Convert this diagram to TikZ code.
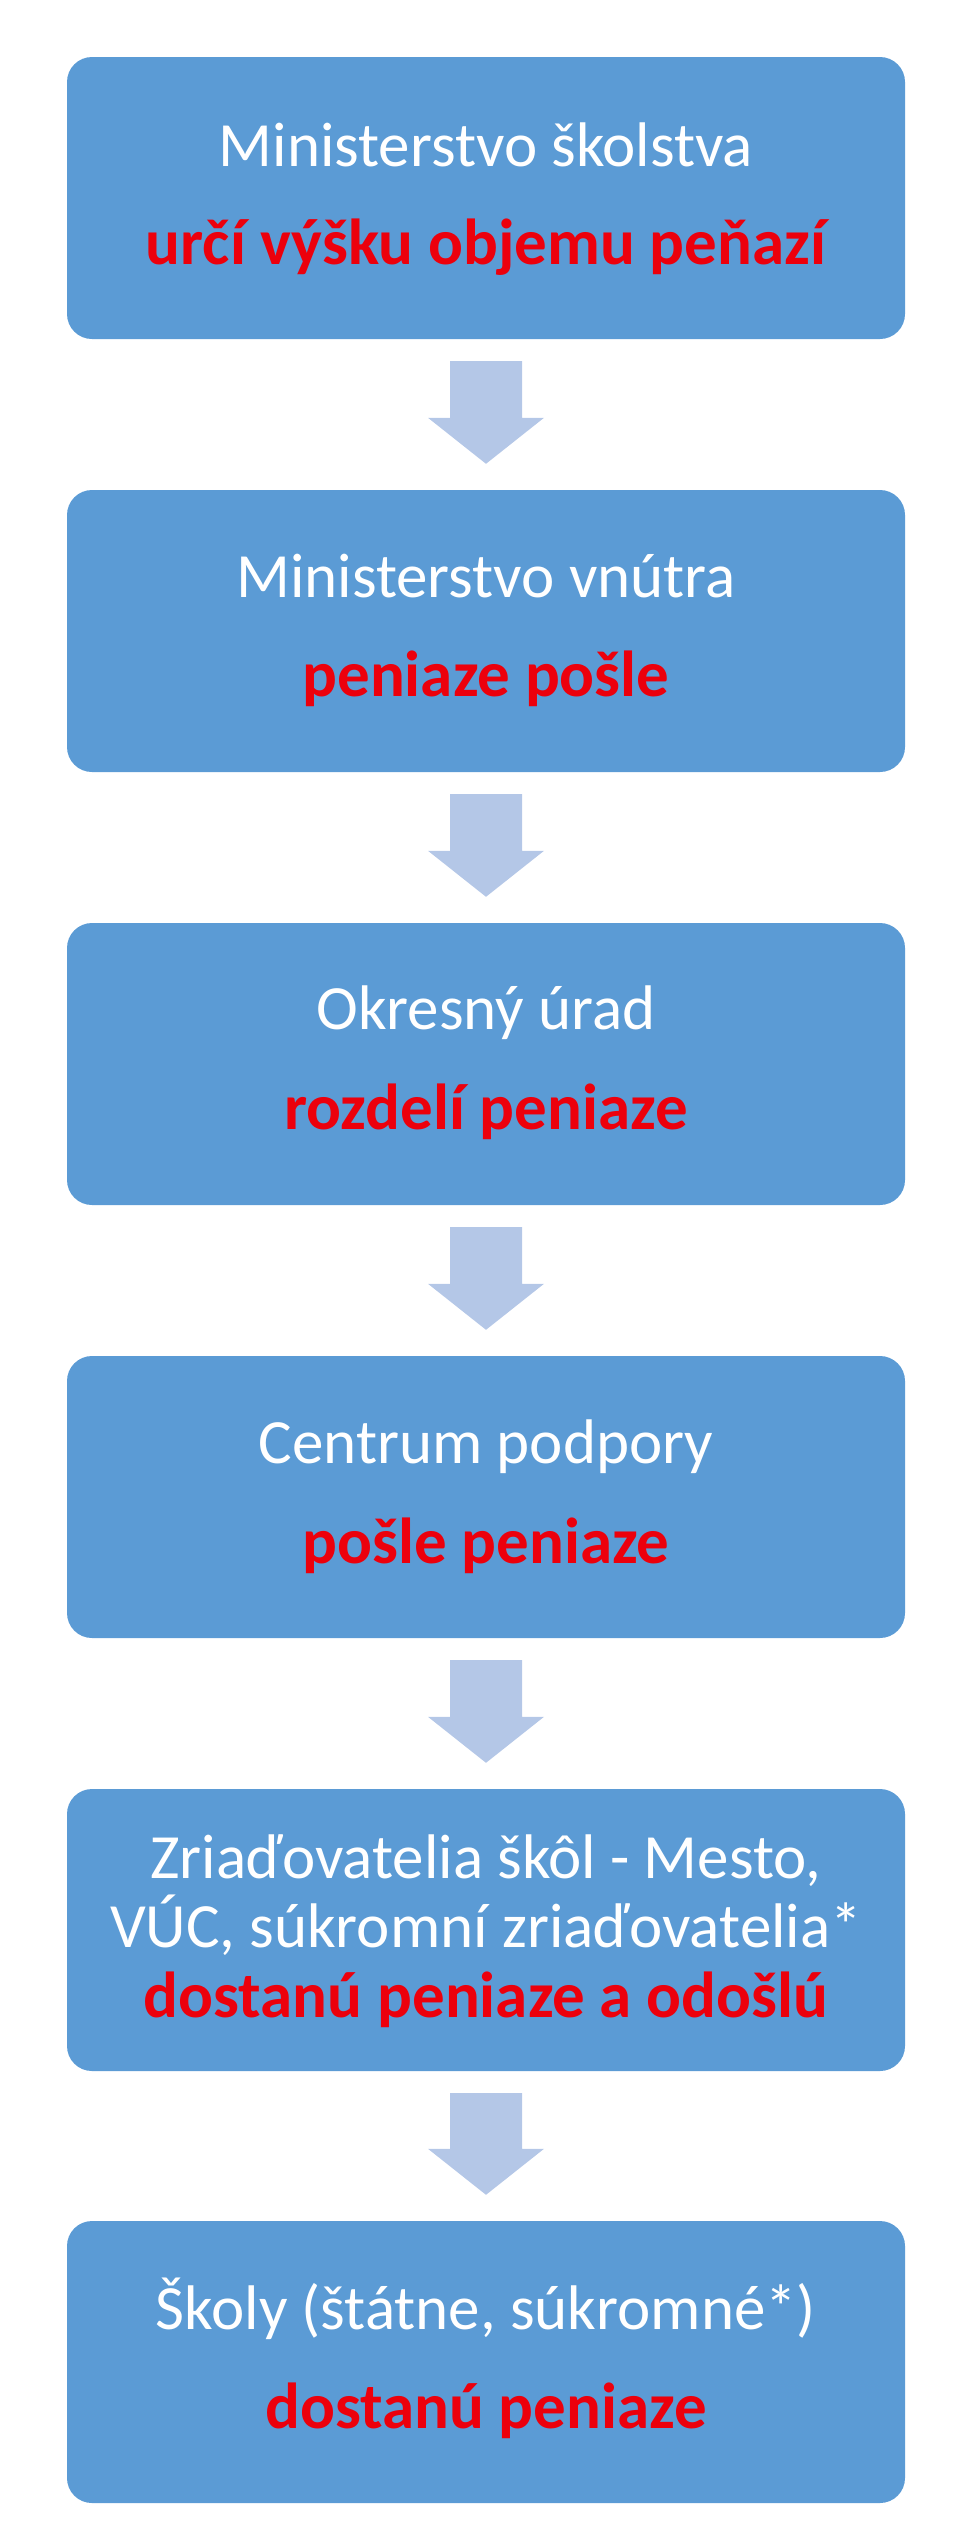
\documentclass[tikz,border=0pt]{standalone}
\usepackage{fontspec}
\usetikzlibrary{calc}
\newfontfamily\wfont{Carlito}
\definecolor{boxblue}{RGB}{91,155,213}
\definecolor{arrowblue}{RGB}{180,199,231}
\definecolor{txtred}{RGB}{236,0,12}
\begin{document}
\begin{tikzpicture}[x=1pt,y=-1pt,
  box/.style={fill=boxblue,draw=none,rounded corners=25pt,minimum width=838pt,minimum height=282pt,inner sep=0pt},
  wt/.style={anchor=base,inner sep=0pt,text=white,font=\wfont\fontsize{63}{72}\selectfont},
  rt/.style={anchor=base,inner sep=0pt,text=txtred,font=\wfont\bfseries\fontsize{65}{74}\selectfont},
  flow/.style={fill=arrowblue,draw=none}]
\useasboundingbox (0,0) rectangle (970,2536);
\node[box] (b1) at (486,198) {};
\node[box] (b2) at (486,631) {};
\node[box] (b3) at (486,1064) {};
\node[box] (b4) at (486,1497) {};
\node[box] (b5) at (486,1930) {};
\node[box] (b6) at (486,2362) {};
\node[wt] (w1) at ($(b1.north)+(0,110)$) {Ministerstvo školstva};
\node[rt] (r1) at ($(b1.north)+(0,208)$) {určí výšku objemu peňazí};
\node[wt] (w2) at ($(b2.north)+(0,108)$) {Ministerstvo vnútra};
\node[rt] (r2) at ($(b2.north)+(0,207)$) {peniaze pošle};
\node[wt] (w3) at ($(b3.north)+(0,107)$) {Okresný úrad};
\node[rt] (r3) at ($(b3.north)+(0,207)$) {rozdelí peniaze};
\node[wt] (w4) at ($(b4.north)+(0,108)$) {Centrum podpory};
\node[rt] (r4) at ($(b4.north)+(0,208)$) {pošle peniaze};
\node[wt] (w5a) at ($(b5.north)+(0,90)$) {Zriaďovatelia škôl - Mesto,};
\node[wt] (w5b) at ($(b5.north)+(0,159)$) {VÚC, súkromní zriaďovatelia*};
\node[rt] (r5) at ($(b5.north)+(0,229)$) {dostanú peniaze a odošlú};
\node[wt] (w6) at ($(b6.north)+(0,109)$) {Školy (štátne, súkromné*)};
\node[rt] (r6) at ($(b6.north)+(0,208)$) {dostanú peniaze};
\foreach \a/\b in {b1/b2,b2/b3,b3/b4,b4/b5,b5/b6}{
  \fill[flow] ($(\a.south)+(-36,22)$) -- ($(\a.south)+(36,22)$)
    -- ($(\b.north)+(36,-72)$) -- ($(\b.north)+(58,-72)$)
    -- ($(\b.north)+(0,-26)$) -- ($(\b.north)+(-58,-72)$)
    -- ($(\b.north)+(-36,-72)$) -- cycle;
}
\end{tikzpicture}
\end{document}
